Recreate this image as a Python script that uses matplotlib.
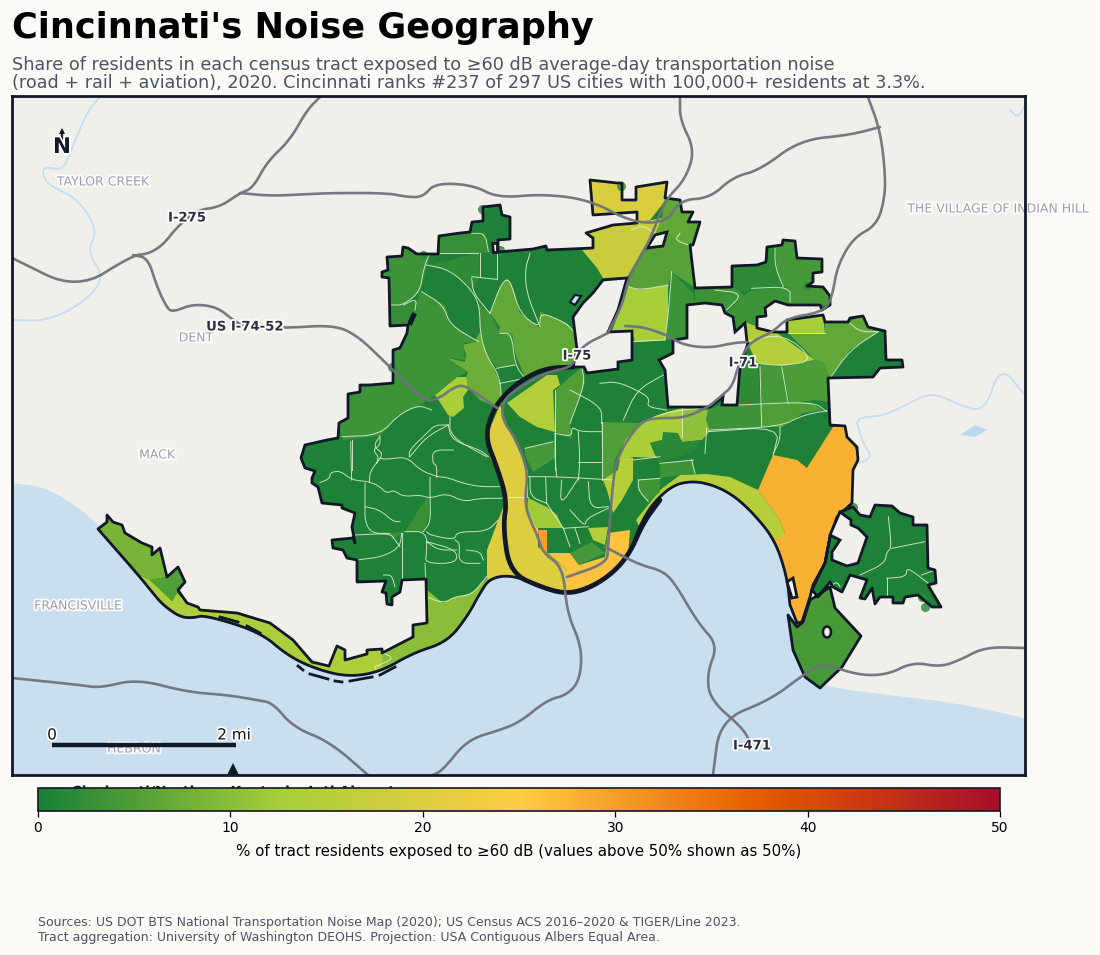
import matplotlib
matplotlib.use('Agg')
import matplotlib.pyplot as plt
import matplotlib.patheffects as pe
from matplotlib.colors import LinearSegmentedColormap, Normalize
from matplotlib.cm import ScalarMappable
from matplotlib.patches import Polygon, PathPatch, Ellipse
from matplotlib.path import Path

# map geometry (map units, y grows downward)
north_edge = [(305,445),(327,440),(338,438),(339,423),(348,418),(348,394),(360,392),(360,385),(370,385),(393,383),(393,350),(400,348),(407,333),(408,325),(390,326),(389,278),(382,277),(382,272),(388,270),(387,257),(402,256),(403,247),(408,248),(417,254),(438,254),(439,236),(460,233),(470,232),(472,222),(483,221),(483,207),(500,205),(502,215),(510,217),(510,239),(498,240),(498,252),(533,249),(546,246),(547,250),(593,248),(593,238),(586,233),(613,225),(637,223),(637,212),(593,215),(590,180),(617,183),(622,183),(622,200),(636,200),(636,187),(667,182),(665,198),(680,200),(682,212),(693,212),(688,222),(700,222),(693,245),(690,245),(695,288),(732,287),(732,266),(757,265),(766,262),(767,247),(782,245),(783,240),(795,241),(797,258),(822,259),(822,272),(813,273),(813,282),(807,286),(823,287),(830,296),(830,305),(822,310),(820,305),(788,305),(775,301),(765,308),(766,316),(757,317),(757,328),(773,332),(787,332),(787,320),(823,315),(825,322),(848,322),(850,318),(863,316),(868,327),(885,331),(886,360),(902,360),(903,367),(880,368),(873,377),(828,378),(830,425),(845,426),(847,437),(857,447),(858,460),(853,470),(852,503),(837,517),(830,537),(825,563),(813,585),(810,597),(802,622),(797,623),(790,605)]
shore_edge = [(790,605),(787,577),(775,540),(753,513),(733,495),(713,485),(693,481),(673,485),(653,503),(640,525),(630,553),(613,573),(587,588),(567,593),(543,588),(513,575),(490,578),(480,593),(467,617),(447,642),(413,653),(380,672),(347,677),(313,668),(287,655),(260,632),(205,615),(193,618),(180,617),(163,605),(152,592),(140,577),(98,529)]
west_edge = [(98,529),(107,522),(107,515),(113,522),(122,525),(125,533),(142,543),(152,547),(152,555),(160,548),(167,577),(178,567),(185,582),(178,590),(187,603),(198,607),(200,610),(237,613),(270,623),(293,640),(312,662),(329,666),(337,646),(345,650),(345,660),(367,654),(367,650),(382,649),(382,653),(413,637),(413,625),(427,623),(426,579),(402,580),(400,592),(392,597),(392,605),(387,604),(386,593),(382,592),(386,581),(357,582),(357,560),(347,558),(343,550),(333,548),(332,540),(353,538),(355,543),(352,527),(355,513),(342,508),(342,505),(322,503),(318,487),(312,483),(312,478),(315,471),(305,468),(301,458)]
east_outline = [(840,512),(853,507),(860,515),(870,517),(875,505),(892,506),(900,513),(913,517),(913,525),(927,525),(928,568),(935,570),(936,583),(928,585),(941,607),(932,607),(918,595),(905,597),(903,603),(893,603),(893,597),(880,597),(875,604),(872,588),(865,599),(860,598),(867,580),(850,575),(842,592),(833,587),(830,582),(818,597),(812,590),(825,563),(830,537)]
south_outline = [(788,615),(797,627),(803,622),(810,600),(815,597),(830,587),(835,608),(861,636),(842,667),(820,688),(805,677),(793,650)]

# (value, polygon) for every tract that is not the darkest green
tract_values = [28, 15, 20.5, 20.5, 20.5, 26, 30, 14.5, 4, 12, 14.5, 5, 4, 13, 7.5, 6.5, 3.5, 3.2, 3.2, 2.4, 2.6, 2, 17.5, 20, 6.5, 5.5, 12.5, 3.2, 1.8, 4, 3.2, 3.2, 14.5, 12.5, 6.5, 2, 4, 4.5, 3.2, 5, 13, 10.5, 1.5, 5, 15, 3.5, 3.2, 2.8, 10, 13.5, 8.5, 5, 4.2]
tract_shapes = [
    [(773,455),(797,460),(807,468),(833,427),(845,426),(858,455),(853,480),(852,503),(837,517),(830,537),(825,563),(813,585),(810,597),(802,622),(797,623),(785,600),(784,577),(774,537),(785,533),(778,517),(758,490)],
    [(636,520),(660,490),(680,475),(707,474),(730,477),(758,490),(778,517),(785,533),(775,540),(753,516),(733,498),(713,488),(693,484),(673,488),(653,506),(640,528)],
    [(500,405),(488,433),(490,457),(503,483),(505,497),(528,497),(528,472),(522,457),(507,425)],
    [(504,505),(487,550),(487,582),(512,578),(508,507)],
    [(505,497),(525,497),(527,513),(538,528),(538,547),(547,553),(567,570),(567,597),(543,592),(510,578),(505,540)],
    [(548,553),(570,553),(579,565),(605,557),(608,533),(630,530),(628,556),(616,576),(590,592),(567,597),(567,570)],
    [(538,530),(547,530),(547,553),(540,548)],
    [(588,528),(608,527),(605,545),(593,540)],
    [(570,553),(592,542),(605,553),(579,565)],
    [(528,498),(547,507),(557,515),(563,528),(538,528),(527,513)],
    [(507,403),(547,375),(557,375),(560,385),(553,390),(555,432),(537,427),(520,417)],
    [(555,390),(582,367),(585,383),(570,423),(572,438),(555,432)],
    [(525,448),(553,442),(555,458),(533,472),(525,455)],
    [(435,395),(457,377),(467,377),(468,390),(463,397),(464,408),(453,417),(448,415),(443,407)],
    [(447,358),(465,362),(466,355),(463,345),(474,342),(480,332),(487,353),(500,383),(502,403),(498,408),(480,400),(468,387),(466,377),(468,372)],
    [(490,313),(500,287),(507,278),(512,285),(520,313),(540,328),(540,312),(567,323),(575,333),(577,347),(573,367),(547,368),(525,378),(515,353),(512,333),(498,333),(500,327)],
    [(477,303),(490,313),(500,333),(512,333),(515,365),(497,368),(487,355),(480,332),(480,317)],
    [(393,350),(400,348),(407,333),(420,292),(445,305),(450,323),(478,342),(463,343),(465,360),(447,358),(467,372),(457,377),(435,395),(427,400),(418,407),(398,415),(380,436),(343,440),(338,423),(348,418),(348,394),(360,392),(360,385),(370,385),(393,383)],
    [(387,257),(402,256),(403,247),(417,254),(430,255),(423,280),(420,292),(403,305),(390,305),(389,278),(382,277),(382,272),(388,270)],
    [(390,305),(403,305),(417,300),(418,310),(408,325),(390,326)],
    [(440,235),(485,233),(487,253),(440,254)],
    [(428,265),(479,253),(480,277),(472,290),(450,270)],
    [(586,233),(613,225),(637,223),(662,218),(655,235),(645,247),(627,277),(603,278),(597,268),(582,250),(593,248),(593,238)],
    [(590,180),(617,183),(622,183),(622,200),(636,200),(636,187),(667,182),(665,200),(662,205),(650,220),(637,223),(637,212),(593,215)],
    [(665,198),(680,200),(682,212),(693,212),(688,222),(700,222),(693,245),(675,242),(667,232),(655,235),(662,218)],
    [(645,248),(663,246),(667,232),(675,240),(690,245),(695,288),(672,272),(668,285),(640,290),(628,287),(627,278)],
    [(628,287),(640,290),(668,285),(668,315),(665,340),(635,342),(632,331),(612,331)],
    [(672,272),(693,293),(695,303),(687,305),(687,337),(665,340),(668,315)],
    [(732,266),(757,265),(766,262),(767,247),(775,247),(777,270),(785,287),(750,290),(740,292),(732,287)],
    [(775,247),(783,240),(795,241),(797,258),(822,259),(822,272),(813,273),(813,282),(807,286),(823,287),(830,296),(830,305),(788,305),(790,287),(785,287),(777,270)],
    [(695,288),(732,287),(740,292),(745,295),(727,310),(725,313),(722,305),(705,303),(695,303)],
    [(727,312),(745,295),(752,290),(790,287),(788,305),(775,301),(765,308),(766,316),(757,317),(757,328),(745,322),(735,332),(733,317)],
    [(745,322),(773,333),(777,333),(815,360),(783,366),(757,363),(747,342)],
    [(787,320),(823,315),(825,334),(787,333)],
    [(788,333),(825,334),(825,322),(848,322),(863,316),(868,327),(878,332),(850,350),(830,378),(823,363),(815,360)],
    [(738,367),(757,363),(761,405),(737,405)],
    [(760,364),(782,367),(788,402),(762,404)],
    [(782,367),(815,360),(823,363),(830,378),(828,402),(815,400),(790,403)],
    [(708,410),(722,405),(737,405),(761,405),(762,427),(710,431),(706,420)],
    [(761,405),(788,402),(810,402),(822,410),(803,413),(782,427),(762,427)],
    [(640,423),(667,412),(682,408),(682,440),(662,440),(650,443),(655,455),(658,458),(635,457),(617,460),(625,440)],
    [(682,408),(708,410),(706,420),(710,431),(702,440),(682,442)],
    [(650,443),(662,440),(663,432),(678,433),(682,442),(702,440),(693,452),(658,463),(655,450)],
    [(601,422),(640,423),(625,440),(615,460),(612,478),(603,480)],
    [(620,458),(633,458),(633,480),(622,500),(613,513),(607,490),(603,480),(618,470)],
    [(638,480),(660,478),(660,492),(648,502),(638,490)],
    [(660,463),(693,460),(695,473),(660,478)],
    [(390,533),(405,532),(420,507),(428,497),(430,513),(423,532),(405,532),(392,540)],
    [(427,590),(443,603),(455,597),(472,593),(487,578),(492,581),(482,596),(469,620),(449,645),(415,656),(382,675),(382,653),(413,637),(413,625),(427,623)],
    [(140,575),(150,580),(172,601),(177,593),(187,603),(198,607),(200,610),(237,613),(270,623),(293,640),(312,662),(329,666),(337,646),(345,650),(345,660),(367,654),(367,650),(382,649),(382,675),(347,680),(313,671),(285,658),(258,635),(205,618),(193,621),(180,620),(161,607),(150,594)],
    [(98,529),(107,515),(113,522),(122,525),(125,533),(142,543),(152,547),(152,555),(160,548),(167,577),(150,580),(140,575)],
    [(167,577),(178,567),(185,582),(178,590),(177,593),(172,601),(150,580)],
    [(788,615),(797,627),(803,622),(810,600),(815,597),(830,587),(835,608),(861,636),(842,667),(820,688),(805,677),(793,650)],
]

# tract borders, kept in the 3x crop pixels they were read from
lines_nw = [
    [(440,285),(510,300),(575,360),(595,400),(600,440),(600,480),(615,550),(660,620),(665,700)],
    [(575,320),(650,328)],[(600,250),(600,320)],[(650,250),(650,328)],[(480,250),(595,250)],
    [(575,190),(615,190),(625,245)],[(750,250),(735,300),(740,370),(780,470)],
    [(425,365),(490,405),(510,465),(595,515)],[(575,325),(580,370),(630,430)],
    [(335,405),(370,405),(420,365),(430,300),(445,258)],[(370,405),(410,385),(405,420)],
    [(185,800),(300,795),(355,735),(415,705),(455,720)],[(300,797),(280,830),(310,850),(290,880)],
    [(390,860),(440,800),(505,765)],[(510,740),(510,800),(620,860)],[(215,810),(215,900)],
    [(630,430),(660,350),(680,325),(695,345),(720,430),(780,475),(780,425),(860,460),(885,490)],
    [(660,640),(735,625)],[(705,585),(650,595)],[(660,490),(695,490),(705,585),(735,625)],
    [(825,660),(825,900)],[(870,760),(915,640),(905,590)],[(870,660),(965,710),(965,760)],
]
lines_ne = [
    [(70,750),(110,660),(190,615)],[(0,640),(50,635),(110,660),(150,685),(140,710),(200,720)],
    [(480,590),(485,770)],[(545,590),(565,700)],[(415,705),(640,695),(680,725)],
    [(330,780),(540,770),(610,735),(680,722)],[(540,770),(540,810),(520,850)],
    [(345,360),(430,370),(380,420)],[(455,355),(570,350),(570,395)],[(525,235),(525,290),(550,350)],
    [(750,460),(780,485),(835,485)],[(835,485),(750,540),(690,625)],[(320,775),(315,850)],
    [(215,305),(205,430),(195,510)],[(85,350),(120,360),(205,345)],[(95,515),(195,510)],
    [(245,715),(245,800)],[(120,760),(200,725),(325,712)],[(240,190),(225,210),(265,225)],
    [(440,515),(550,490),(645,570),(550,588),(470,580)],[(565,490),(675,490)],[(95,180),(130,165),(170,195)],
]
lines_sw = [
    [(212,125),(215,240)],[(300,110),(300,135),(278,150),(300,175),(270,215),(268,245)],
    [(120,248),(150,235),(150,218),(180,212),(215,240),(268,245),(300,260),(320,280),(340,270),(370,290),(420,285),(450,295),(500,280),(550,305),(600,295),(665,295)],
    [(300,175),(320,178),(380,170),(420,210),(470,230),(500,232),(550,250),(600,260),(660,260)],
    [(388,170),(388,150),(440,100),(465,75),(505,75)],[(505,75),(515,120),(600,150),(625,170)],
    [(520,150),(458,150),(458,190),(470,195),(470,232)],[(450,232),(450,295),(452,365),(430,395)],
    [(255,250),(255,320),(255,365),(275,400),(330,400)],[(255,320),(300,330),(340,365),(360,365)],
    [(375,395),(440,395),(440,460),(435,490),(530,490),(530,450),(440,425)],
    [(440,395),(450,405),(525,420),(530,395),(620,395),(655,360)],[(525,420),(540,430),(535,490),(600,490)],
    [(440,425),(475,450),(530,450)],[(365,400),(360,440),(310,470),(230,480)],
    [(225,405),(330,400),(345,420),(360,440)],[(365,400),(365,535)],[(435,490),(437,537)],
    [(560,450),(600,455),(610,480)],[(440,590),(490,610),(525,590),(575,585),(620,530)],
    [(825,100),(825,175),(830,230)],[(745,230),(830,230),(1000,240)],[(895,95),(900,185),(895,240)],
    [(895,185),(965,185)],[(965,65),(965,240)],[(825,100),(875,110),(875,80),(900,95),(965,95)],
    [(750,230),(750,290),(800,310)],[(797,232),(800,310)],[(845,240),(840,320),(895,235)],
    [(925,245),(930,325),(985,320)],[(800,310),(850,385)],[(870,330),(915,380),(920,355),(985,325)],
    [(850,385),(925,380)],[(850,385),(870,440)],[(885,385),(900,430)],[(1060,180),(1140,170)],
    [(1075,240),(1140,235)],[(1105,305),(1075,270),(1075,240)],[(685,290),(745,290)],
    [(285,800),(345,775),(300,755)],[(285,800),(290,815)],[(735,145),(820,125)],
    [(310,525),(335,525),(345,560)],
]
lines_se = [
    [(60,190),(160,180)],[(205,95),(420,80),(400,165)],[(155,180),(165,220)],
    [(745,350),(755,445),(740,455),(735,490),(660,525)],[(755,445),(855,425)],
    [(740,535),(740,585)],[(740,535),(800,530),(800,500),(865,550)],[(845,525),(885,510)],
    [(525,590),(570,560),(590,545),(600,560)],
]

hole_west = [(603,280),(627,278),(618,310),(608,332),(632,331),(632,360),(618,362),(618,369),(587,373),(584,367),(573,367),(577,350),(573,317),(583,303),(593,293)]
hole_center = [(687,305),(705,303),(722,305),(725,313),(733,317),(735,332),(745,323),(747,342),(748,343),(740,367),(737,405),(722,405),(723,397),(710,407),(668,407),(665,370),(659,360),(673,353),(673,340),(687,338)]
hole_north = [(647,248),(663,246),(667,232),(655,235)]
hole_east = [(840,512),(851,520),(851,525),(858,528),(867,537),(858,563),(847,566),(832,560),(832,552),(840,540),(830,535)]
hole_slits = [
    [(409,323),(413,314),(415,315),(411,324)],
    [(492,243),(497,243),(497,252),(493,252)],
    [(787,582),(793,578),(797,597),(792,598)],
]
pond = [(570,302),(575,295),(581,296),(575,305)]

water_shore = [(0,483),(12,483),(45,487),(75,505),(100,526),(142,574),(182,612),(205,610),(262,628),(315,662),(347,672),(380,667),(445,637),(463,613),(487,573),(513,570),(543,583),(567,588),(610,568),(636,520),(673,480),(713,480),(735,490),(778,537),(792,600),(798,650),(808,675),(820,685),(860,692),(960,703),(1040,722)]
water_floor = [(1040,790),(0,790)]
lake = [(960,435),(975,425),(987,430),(975,437)]
streams = [
    [(100,97),(88,110),(70,153),(63,170),(45,167),(42,173),(48,185),(77,198),(98,230),(87,252),(105,278),(83,303),(47,321),(12,320)],
    [(857,423),(860,418),(867,417),(887,415),(928,393),(945,398),(960,405),(985,412),(1000,365),(1025,395)],
    [(857,423),(863,443),(872,457),(860,463)],
    [(1010,110),(1018,118),(1025,105)],
]
roads = [
    [(12,258),(77,290),(133,255),(148,254),(163,245),(177,227),(197,210),(220,207),(240,193),(253,188),(267,162),(290,140),(307,110),(320,97)],
    [(133,255),(148,258),(157,287),(167,308),(173,312),(193,304),(217,307),(233,320),(245,327),(287,328),(333,325),(357,335),(390,367),(423,400),(437,400),(457,385),(468,387),(497,408)],
    [(240,193),(270,196),(310,194),(333,193),(387,193),(407,197),(423,197),(435,183),(473,185),(498,198),(543,194),(590,200),(633,223),(667,222),(680,200),(710,198),(733,177),(760,170),(800,140),(850,135),(880,127)],
    [(608,333),(623,303),(627,283),(638,260),(650,240),(665,200),(685,180),(695,150),(680,120),(680,97)],
    [(608,333),(580,347),(573,367),(547,372),(520,387),(503,400),(502,420),(517,440),(528,472),(525,497),(527,513),(538,537),(543,553),(563,567),(567,613),(582,647),(580,680),(567,695),(547,700),(520,722),(500,730),(467,740),(443,770),(433,775)],
    [(567,577),(607,563),(608,547),(613,480),(617,460),(627,440),(643,420),(660,418),(683,418),(707,408),(720,397),(732,387),(738,367),(748,343),(773,332),(787,318),(823,312),(832,298),(837,267),(853,238),(877,225),(885,197),(885,170),(880,130),(868,97)],
    [(1025,648),(985,647),(960,660),(940,667),(913,662),(887,675),(857,675),(823,663),(803,675),(770,700),(720,720),(713,775)],
    [(605,547),(640,565),(660,570),(673,580),(698,623),(718,645),(707,673),(710,700),(745,730),(750,745)],
    [(12,678),(80,685),(100,688),(137,679),(187,692),(227,695),(257,700),(273,703),(293,727),(330,742),(368,775)],
    [(625,326),(643,327),(667,335),(683,345),(710,348),(733,343),(747,342)],
]
river_line = [(573,367),(547,368),(525,378),(507,392),(493,410),(485,437),(497,467),(507,500),(503,527),(510,573),(543,588),(567,594),(590,588),(613,573),(630,553),(643,523),(660,500)]
shore_dashes = [
    [(220,617),(238,622)],[(247,626),(260,633)],[(298,666),(303,670)],[(310,674),(328,679)],
    [(335,681),(342,682)],[(350,681),(372,677)],[(380,675),(395,667)],
]
dots_x = [621,482,423,500,392,807,688,853,925,922]
dots_y = [186,209,255,250,367,286,338,507,607,597]

place_names = ['TAYLOR CREEK','THE VILLAGE OF INDIAN HILL','DENT','MACK','FRANCISVILLE','HEBRON']
place_x = [103,998,196,157,78,134]
place_y = [182,209,338,455,606,749]
road_names = ['I-275','US I-74-52','I-75','I-71','I-471']
road_x = [187,245,577,743,752]
road_y = [218,327,356,363,746]

cbar_stops = ['#1a7f37','#a6ce39','#ffcc44','#e65c00','#a50e2a']
cbar_ticks = [0,10,20,30,40,50]

INK = '#111827'


def from_crop(lines, x0, y0):
    return [[(x0 + x / 3, y0 + y / 3) for x, y in line] for line in lines]


def smooth(points, rounds=3):
    # Chaikin corner cutting, end points stay where they are
    for _ in range(rounds):
        new_points = [points[0]]
        for (x0, y0), (x1, y1) in zip(points[:-1], points[1:]):
            new_points.append((0.75 * x0 + 0.25 * x1, 0.75 * y0 + 0.25 * y1))
            new_points.append((0.25 * x0 + 0.75 * x1, 0.25 * y0 + 0.75 * y1))
        new_points.append(points[-1])
        points = new_points
    return points


def halo(color='white', width=2.5):
    return [pe.withStroke(linewidth=width, foreground=color)]


def closed_path(points):
    return Path(points + [points[0]], [Path.MOVETO] + [Path.LINETO] * (len(points) - 1) + [Path.CLOSEPOLY])


W, H = 1100, 955
fig = plt.figure(figsize=(W / 100, H / 100), dpi=100, facecolor='#fbfaf6')

ax = fig.add_axes([12 / W, 1 - 775 / H, (1025 - 12) / W, (775 - 96) / H])
ax.set_xlim(12, 1025)
ax.set_ylim(775, 96)
ax.set_facecolor('#f1efe9')
ax.set_xticks([])
ax.set_yticks([])
for spine in ax.spines.values():
    spine.set_linewidth(2)
    spine.set_color(INK)
    spine.set_zorder(20)

ax.add_patch(Polygon(smooth(water_shore) + water_floor, closed=True, fc='#c9dff0', ec='none', zorder=1))
ax.add_patch(Polygon(lake, closed=True, fc='#bcd8ef', ec='none', zorder=1))
for line in streams:
    xs, ys = zip(*smooth(line))
    ax.plot(xs, ys, color='#c4dff2', lw=1.4, zorder=1.5)

cmap = LinearSegmentedColormap.from_list('noise', cbar_stops)
norm = Normalize(0, 50)

main_outline = north_edge + smooth(shore_edge)[1:] + west_edge[1:]
city = Path.make_compound_path(closed_path(main_outline), closed_path(east_outline), closed_path(south_outline))
base = PathPatch(city, fc=cmap(norm(0.5)), ec='none', zorder=2)
ax.add_patch(base)

for value, shape in zip(tract_values, tract_shapes):
    patch = Polygon(shape, closed=True, fc=cmap(norm(value)), ec='none', zorder=3)
    ax.add_patch(patch)
    patch.set_clip_path(base)

all_lines = from_crop(lines_nw, 280, 170) + from_crop(lines_ne, 600, 170) + from_crop(lines_sw, 280, 400) + from_crop(lines_se, 640, 400)
for line in all_lines:
    xs, ys = zip(*smooth(line, 2))
    l, = ax.plot(xs, ys, color='#e6f0da', lw=0.7, alpha=0.85, zorder=4)
    l.set_clip_path(base)

for x, y in zip(dots_x, dots_y):
    ax.plot(x, y, 'o', ms=6.5, color='#2e8b3d', alpha=0.85, mew=0, zorder=4.5)

ax.add_patch(PathPatch(city, fc='none', ec=INK, lw=2, joinstyle='round', zorder=5))
for hole in [hole_west, hole_center, hole_north, hole_east] + hole_slits:
    ax.add_patch(Polygon(hole, closed=True, fc='#f1efe9', ec=INK, lw=2, zorder=5))
ax.add_patch(Polygon(pond, closed=True, fc='#c9dff0', ec=INK, lw=1.5, zorder=5))
ax.add_patch(Ellipse((827, 632), 8, 11, fc='#f1efe9', ec=INK, lw=1.8, zorder=5))

xs, ys = zip(*smooth(river_line))
ax.plot(xs, ys, color=INK, lw=3.4, solid_capstyle='round', zorder=5.5)
for line in shore_dashes:
    xs, ys = zip(*line)
    ax.plot(xs, ys, color=INK, lw=2, zorder=5.5)

for line in roads:
    xs, ys = zip(*smooth(line))
    ax.plot(xs, ys, color='#6f737c', lw=1.9, alpha=0.95, solid_capstyle='round', zorder=6)

for name, x, y in zip(place_names, place_x, place_y):
    ax.text(x, y, name, color='#9b9dae', fontsize=9, ha='center', va='center', clip_on=False, zorder=7,
            path_effects=halo())
for name, x, y in zip(road_names, road_x, road_y):
    ax.text(x, y, name, color='#2b3040', fontsize=9.5, fontweight='bold', ha='center', va='center', zorder=8,
            path_effects=halo())

# north arrow, scale bar, airport marker
ax.plot([62, 62], [131, 139], color=INK, lw=1.6, zorder=9)
ax.plot(62, 131, '^', ms=5, color=INK, mew=0, zorder=9)
ax.text(62, 147, 'N', fontsize=15.5, fontweight='bold', color=INK, ha='center', va='center', zorder=9, path_effects=halo())
ax.plot([52, 236], [745, 745], color=INK, lw=3.2, solid_capstyle='butt', zorder=9)
ax.text(52, 735, '0', fontsize=11, color='#111111', ha='center', va='center', zorder=9, path_effects=halo())
ax.text(234, 735, '2 mi', fontsize=11, color='#111111', ha='center', va='center', zorder=9, path_effects=halo())
ax.plot(233, 771, '^', ms=11, color=INK, mew=0, zorder=9)
ax.text(233, 792, 'Cincinnati/Northern Kentucky Intl Airport', fontsize=10, fontweight='bold', color=INK,
        ha='center', va='center', clip_on=False, zorder=9, path_effects=halo())

# colour bar sits on top of the airport label
cax = fig.add_axes([38 / W, 1 - 811 / H, (1000 - 38) / W, 23 / H], zorder=5)
cb = fig.colorbar(ScalarMappable(norm=norm, cmap=cmap), cax=cax, orientation='horizontal')
cb.set_ticks(cbar_ticks)
cb.outline.set_edgecolor(INK)
cb.outline.set_linewidth(1.2)
cax.tick_params(labelsize=10, length=4, width=0.9, pad=3)
cb.set_label('% of tract residents exposed to \u226560 dB (values above 50% shown as 50%)', fontsize=10.8, labelpad=7)

fig.text(12 / W, 1 - 28 / H, "Cincinnati's Noise Geography", fontsize=25.3, fontweight='bold', color='black', va='center')
fig.text(12 / W, 1 - 65 / H, 'Share of residents in each census tract exposed to \u226560 dB average-day transportation noise',
         fontsize=12.7, color='#4b5563', va='center')
fig.text(12 / W, 1 - 83 / H, '(road + rail + aviation), 2020. Cincinnati ranks #237 of 297 US cities with 100,000+ residents at 3.3%.',
         fontsize=12.7, color='#4b5563', va='center')
fig.text(38 / W, 1 - 922 / H, 'Sources: US DOT BTS National Transportation Noise Map (2020); US Census ACS 2016\u20132020 & TIGER/Line 2023.',
         fontsize=9, color='#4b5563', va='center')
fig.text(38 / W, 1 - 937 / H, 'Tract aggregation: University of Washington DEOHS. Projection: USA Contiguous Albers Equal Area.',
         fontsize=9, color='#4b5563', va='center')

fig.savefig('out.png', dpi=100, facecolor=fig.get_facecolor())
